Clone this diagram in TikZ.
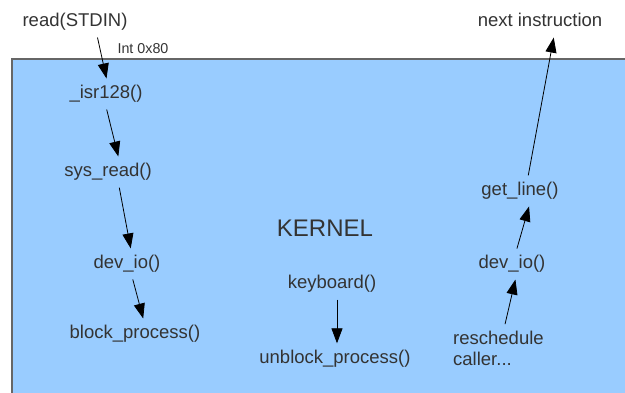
\documentclass[tikz,border=0pt]{standalone}
\usepackage{fontspec}
\setmainfont{Liberation Sans}
\usetikzlibrary{arrows.meta}
\definecolor{kernelblue}{HTML}{99CCFF}
\definecolor{textgray}{HTML}{333333}
\definecolor{edgegray}{HTML}{666666}

\begin{document}
\begin{tikzpicture}[x=1pt, y=-1pt,
      fn/.style={text=textgray, font=\fontsize{18.5}{21}\selectfont, inner sep=0pt,
                 text height=13pt, text depth=4pt},
      multi/.style={text=textgray, font=\fontsize{18.5}{21}\selectfont, inner sep=0pt,
                    align=left},
      small/.style={text=textgray, font=\fontsize{14.3}{16}\selectfont, inner sep=0pt},
      title/.style={text=textgray, font=\fontsize{24}{28}\selectfont, inner sep=0pt},
      kbox/.style={draw=edgegray, line width=1.5pt, fill=kernelblue},
      arr/.style={-{Triangle[length=15pt,width=11pt]}, line width=0.8pt,
                  shorten <=7pt, shorten >=7pt},
    ]
    \useasboundingbox (0,0) rectangle (625,392);
    \clip (0,0) rectangle (625,392);
    % ---------- kernel area ----------
    \draw[kbox] (12,59) rectangle (650,420);
    \node[title] (kernel) at (325,228) {KERNEL};

    % ---------- user side ----------
    \node[fn] (read) at (75,22) {read(STDIN)};
    \node[small] (int) at (143,49) {Int 0x80};
    \node[fn] (nextinstr) at (540,22) {next instruction};

    % ---------- blocking path ----------
    \node[fn] (isr) at (106,94) {\_isr128()};
    \node[fn] (sysread) at (108,172) {sys\_read()};
    \node[fn] (devio) at (127,264) {dev\_io()};
    \node[fn] (block) at (135,334) {block\_process()};

    \draw[arr] ([xshift=21pt]read.south) -- ([xshift=2pt]isr.north);
    \draw[arr] ([xshift=-1pt]isr.south) -- ([xshift=12pt]sysread.north);
    \draw[arr] ([xshift=10pt]sysread.south) -- ([xshift=5pt]devio.north);
    \draw[arr] ([xshift=4pt]devio.south) -- ([xshift=10pt]block.north);

    % ---------- interrupt ----------
    \node[fn] (keyb) at (332,284) {keyboard()};
    \node[fn] (unblock) at (335,359) {unblock\_process()};
    \draw[arr] ([xshift=5pt]keyb.south) -- ([xshift=2pt]unblock.north);

    % ---------- return path ----------
    \node[multi, anchor=north west] (resched) at (453,331) {reschedule\\caller...};
    \node[fn] (devioR) at (512,264) {dev\_io()};
    \node[fn] (getline) at (520,191) {get\_line()};

    \draw[arr] ([xshift=5pt]resched.north) -- ([xshift=5pt]devioR.south);
    \draw[arr] ([xshift=3pt]devioR.north) -- ([xshift=11pt]getline.south);
    \draw[arr] ([xshift=7pt]getline.north) -- ([xshift=15pt]nextinstr.south);
  \end{tikzpicture}
\end{document}
